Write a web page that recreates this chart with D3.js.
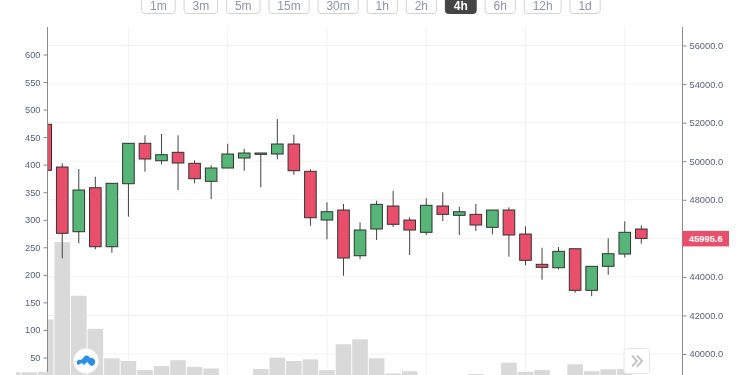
<!DOCTYPE html>
<html>
<head>
<meta charset="utf-8">
<script src="https://cdn.jsdelivr.net/npm/d3@7"></script>
<style>
  html, body { margin: 0; padding: 0; background: #fff; overflow: hidden; }
  svg { display: block; font-family: "Liberation Sans", Arial, sans-serif; filter: blur(0.35px); }
  .axis path, .axis line { stroke: #8a8a8a; }
  .axis text { fill: #56657c; font-size: 9.3px; }
  .grid line { stroke: #f2f2f2; }
</style>
</head>
<body>
<svg id="chart" width="750" height="375"></svg>
<script>
const intervals = ['1m', '3m', '5m', '15m', '30m', '1h', '2h', '4h', '6h', '12h', '1d'];
const activeInterval = '4h';

const opens = [51913, 49698, 46342, 48624, 45564, 48831, 50927, 50024, 50460, 49890, 48956, 49646, 50165, 50356, 50372, 50891, 49475, 46948, 47467, 45097, 46482, 47675, 46948, 46311, 47675, 47192, 47244, 46570, 47467, 46222, 44651, 44474, 45460, 43302, 44547, 45185, 46482];
const closes = [49527, 46259, 48505, 45564, 48852, 50927, 50113, 50336, 49905, 49091, 49646, 50372, 50424, 50424, 50891, 49506, 47068, 47379, 44978, 46430, 47763, 46726, 46430, 47711, 47244, 47379, 46689, 47467, 46171, 44858, 44495, 45325, 43302, 44547, 45201, 46311, 45995.6];
const highs = [51913, 49890, 49594, 49194, 48852, 50943, 51342, 51409, 51342, 50045, 49786, 50906, 50647, 50424, 52187, 51373, 49578, 47867, 47778, 46829, 47950, 48468, 47088, 48074, 48385, 47638, 47778, 47467, 47607, 46622, 45512, 45548, 45460, 44547, 46000, 46881, 46673];
const lows = [49527, 44962, 45740, 45429, 45252, 47120, 49454, 49838, 48505, 48852, 48038, 49646, 49506, 48645, 50097, 49298, 46653, 45947, 44059, 44926, 45911, 46586, 45133, 46171, 46897, 46171, 46378, 46207, 45045, 44599, 43852, 44392, 43178, 43000, 44111, 45003, 45719];

// volume starts two candles before the first price candle
const volumeStart = -2;
const volume = [23, 23, 119, 259.5, 162, 102, 48.5, 43.5, 27, 34.5, 45, 33, 30, 15, 12, 29, 49.6, 43.5, 46.6, 27, 74, 83, 48.5, 21, 25, 12, 10, 15, 20, 15, 40.5, 24, 27, 12, 37.6, 25, 28.5, 29, 15];

const priceTicks = [40000, 42000, 44000, 46000, 48000, 50000, 52000, 54000, 56000];
const volumeTicks = [50, 100, 150, 200, 250, 300, 350, 400, 450, 500, 550, 600];
const gridCandles = [5, 11, 17, 23, 29, 35];

const upColor = '#55b678', downColor = '#e94f6b';
const plotLeft = 47.5, plotRight = 682.5, plotTop = 27, plotBottom = 375;

const svg = d3.select('#chart');

const xScale = d3.scaleLinear().domain([0, 36]).range([45.7, 641.3]);
const priceScale = d3.scaleLinear().domain([40000, 56000]).range([354, 45.5]);
const volumeScale = d3.scaleLinear().domain([0, 600]).range([385, 54.5]);

svg.append('defs').append('clipPath').attr('id', 'plotClip')
    .append('rect').attr('x', plotLeft).attr('y', plotTop).attr('width', plotRight - plotLeft).attr('height', plotBottom - plotTop);
svg.append('defs').append('clipPath').attr('id', 'volumeClip')
    .append('rect').attr('x', 16).attr('y', plotTop).attr('width', plotRight - 16).attr('height', plotBottom - plotTop);

// gridlines
const grid = svg.append('g').attr('class', 'grid');
grid.selectAll('.h').data(priceTicks).join('line')
    .attr('class', 'h')
    .attr('x1', plotLeft).attr('x2', plotRight)
    .attr('y1', d => priceScale(d)).attr('y2', d => priceScale(d));
grid.selectAll('.v').data(gridCandles).join('line')
    .attr('class', 'v')
    .attr('x1', d => xScale(d)).attr('x2', d => xScale(d))
    .attr('y1', plotTop).attr('y2', plotBottom);

// volume bars
svg.append('g').attr('clip-path', 'url(#volumeClip)')
    .selectAll('rect').data(volume).join('rect')
    .attr('x', (d, i) => xScale(i + volumeStart) - 7.8)
    .attr('width', 15.6)
    .attr('y', d => volumeScale(d))
    .attr('height', d => volumeScale(0) - volumeScale(d))
    .attr('fill', '#d9d9d9');

// the left axis panel sits on top of the bars, except the last few pixels
svg.append('rect').attr('x', 0).attr('y', 0).attr('width', plotLeft).attr('height', 372).attr('fill', '#fff');

// candles
const candles = svg.append('g').attr('clip-path', 'url(#plotClip)')
    .selectAll('g').data(opens).join('g');

candles.append('line')
    .attr('x1', (d, i) => xScale(i)).attr('x2', (d, i) => xScale(i))
    .attr('y1', (d, i) => priceScale(highs[i])).attr('y2', (d, i) => priceScale(lows[i]))
    .attr('stroke', '#444');

candles.append('rect')
    .attr('x', (d, i) => xScale(i) - 5.8)
    .attr('width', 11.6)
    .attr('y', (d, i) => priceScale(Math.max(opens[i], closes[i])))
    .attr('height', (d, i) => Math.abs(priceScale(opens[i]) - priceScale(closes[i])))
    .attr('fill', (d, i) => closes[i] >= opens[i] ? upColor : downColor)
    .attr('stroke', '#333');

// axes
svg.append('g').attr('class', 'axis')
    .attr('transform', 'translate(' + plotLeft + ',0)')
    .call(d3.axisLeft(volumeScale).tickValues(volumeTicks).tickSize(4).tickSizeOuter(0))
    .call(g => g.select('.domain').attr('d', 'M0,' + plotTop + 'V372'));

svg.append('g').attr('class', 'axis')
    .attr('transform', 'translate(' + plotRight + ',0)')
    .call(d3.axisRight(priceScale).tickValues(priceTicks).tickSize(4).tickSizeOuter(0).tickFormat(d3.format('.1f')))
    .call(g => g.select('.domain').attr('d', 'M0,' + plotTop + 'V' + plotBottom))
    // 46000 sits under the last price tag
    .call(g => g.selectAll('.tick').filter(d => d === 46000).remove());

// last price tag
const lastPrice = closes[closes.length - 1];
svg.append('rect')
    .attr('x', plotRight).attr('y', priceScale(lastPrice) - 7.5)
    .attr('width', 46.5).attr('height', 15.5)
    .attr('fill', downColor);
svg.append('text')
    .attr('x', plotRight + 6.5).attr('y', priceScale(lastPrice) + 3.4)
    .attr('fill', '#fff').attr('font-size', 9.3).attr('font-weight', 700)
    .text(d3.format('.1f')(lastPrice));

// interval buttons across the top, cut off by the window edge
let buttonX = 141.7;
intervals.forEach(function (label) {
    const button = svg.append('g').attr('transform', 'translate(' + buttonX + ',0)');
    const on = label === activeInterval;
    const rect = button.append('rect')
        .attr('y', -10).attr('height', 23.5).attr('rx', 3)
        .attr('fill', on ? '#444' : '#fff')
        .attr('stroke', on ? '#444' : '#d4d4d4');
    const text = button.append('text')
        .attr('y', 9.5)
        .attr('text-anchor', 'middle')
        .attr('font-size', 12)
        .attr('font-weight', on ? 700 : 400)
        .attr('fill', on ? '#fff' : '#8c96a6')
        .text(label);
    const w = text.node().getComputedTextLength() + 16.8;
    rect.attr('width', w);
    text.attr('x', w / 2);
    buttonX += w + 8.95;
});

// round logo badge at the bottom left
const badge = svg.append('g').attr('transform', 'translate(86,361)');
badge.append('circle').attr('r', 12.5).attr('fill', '#fff').attr('stroke', '#eee');
badge.append('path')
    .attr('d', 'M-8,4 C-11,1 -8,-2 -5,-1 L-1,-5 C1,-6 3,-5 4,-3 C8,-4 11,1 8,4 L5,5 L1,1 L-2,4 L-4,2 Z')
    .attr('fill', '#2b8fe3');

// scroll to latest button
const forward = svg.append('g').attr('transform', 'translate(624,348.5)');
forward.append('rect')
    .attr('width', 25.5).attr('height', 25).attr('rx', 3)
    .attr('fill', '#fff').attr('stroke', '#e6e6e6');
forward.append('path')
    .attr('d', 'M8,7 L13,12.5 L8,18 M13,7 L18,12.5 L13,18')
    .attr('fill', 'none').attr('stroke', '#c4c4c4').attr('stroke-width', 2);
</script>
</body>
</html>
